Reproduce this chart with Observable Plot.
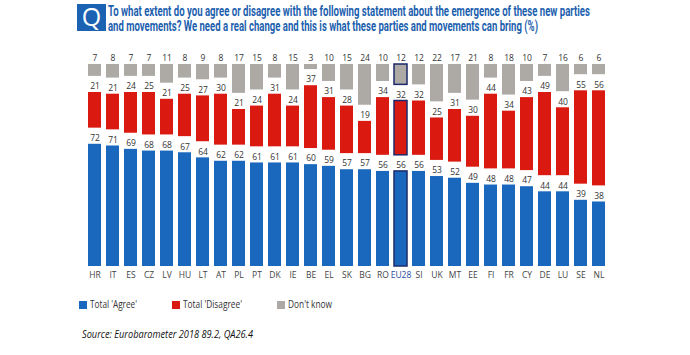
<!DOCTYPE html>
<html>
<head>
<meta charset="utf-8">
<script src="https://cdn.jsdelivr.net/npm/d3@7"></script>
<script src="https://cdn.jsdelivr.net/npm/@observablehq/plot@0.6"></script>
<style>
  html, body { margin: 0; padding: 0; background: #fff; }
  #wrap { position: relative; width: 690px; height: 355px; overflow: hidden; font-family: "Open Sans", sans-serif; }
  #qbox { position: absolute; left: 77px; top: 4px; width: 29px; height: 27px; background: #1b62b3; }
  #qletter { position: absolute; left: 0; top: 0; width: 29px; height: 27px; color: #fff; font-family: "Open Sans", sans-serif;
             font-size: 25px; line-height: 25px; text-align: center; }
  #title { position: absolute; left: 108px; top: 4px; color: #1c5fae; font-family: Roboto, sans-serif;
           font-weight: 700; font-size: 14px; line-height: 15px; white-space: nowrap; }
  .fit { display: inline-block; transform-origin: 0 50%; white-space: nowrap; }
  #chart { position: absolute; left: 0; top: 48px; }
  .leg { position: absolute; top: 298px; font-size: 10px; color: #333; line-height: 12px; white-space: nowrap; }
  .sw { display: inline-block; width: 8px; height: 8px; vertical-align: -1px; margin-right: 3px; }
  #source { position: absolute; left: 82px; top: 326px; font-style: italic; font-size: 11.5px; color: #111; white-space: nowrap; }
</style>
</head>
<body>
<div id="wrap">
  <div id="qbox"><div id="qletter">Q</div></div>
  <div id="title"><span class="fit" data-w="482">To what extent do you agree or disagree with the following statement about the emergence of these new parties</span><br><span class="fit" data-w="430">and movements? We need a real change and this is what these parties and movements can bring (%)</span></div>
  <div id="chart"></div>
  <div class="leg" style="left:79px"><span class="sw" style="background:#1a68bd"></span><span class="fit" data-w="47">Total 'Agree'</span></div>
  <div class="leg" style="left:172px"><span class="sw" style="background:#da1a10"></span><span class="fit" data-w="59">Total 'Disagree'</span></div>
  <div class="leg" style="left:277px"><span class="sw" style="background:#adaaa6"></span><span class="fit" data-w="44">Don't know</span></div>
  <div id="source"><span class="fit" data-w="171">Source: Eurobarometer 2018 89.2, QA26.4</span></div>
</div>
<script>
const countries = ["HR","IT","ES","CZ","LV","HU","LT","AT","PL","PT","DK","IE","BE","EL","SK","BG","RO","EU28","SI","UK","MT","EE","FI","FR","CY","DE","LU","SE","NL"];
const agree     = [72,71,69,68,68,67,64,62,62,61,61,61,60,59,57,57,56,56,56,53,52,49,48,48,47,44,44,39,38];
const disagree  = [21,21,24,25,21,25,27,30,21,24,31,24,37,31,28,19,34,32,32,25,31,30,44,34,43,49,40,55,56];
const dontKnow  = [7,8,7,7,11,8,9,8,17,15,8,15,3,10,15,24,10,12,12,22,17,21,8,18,10,7,16,6,6];
const seriesNames = ["Total 'Agree'", "Total 'Disagree'", "Don't know"];
const colors = ["#1a68bd", "#da1a10", "#adaaa6"];
const highlight = "EU28";
const gap = 9.5; // label space between stacked segments (in %-units)

const rows = [];
countries.forEach((c, i) => {
  const vals = [agree[i], disagree[i], dontKnow[i]];
  let base = 0;
  vals.forEach((v, s) => {
    rows.push({country: c, series: s, value: v, y1: base, y2: base + v});
    base += v + gap;
  });
});

const marks = [];
colors.forEach((col, s) => {
  marks.push(Plot.barY(rows.filter(r => r.series === s), {x: "country", y1: "y1", y2: "y2", fill: col}));
});
marks.push(Plot.barY(rows.filter(r => r.country === highlight), {x: "country", y1: "y1", y2: "y2", fill: "none", stroke: "#1b2a6b", strokeWidth: 1.5}));
marks.push(Plot.text(rows, {x: "country", y: "y2", text: d => String(d.value), dy: -6, fontSize: 8.5, fill: "#333"}));
marks.push(Plot.text(countries.filter(c => c !== highlight), {x: d => d, text: d => d, frameAnchor: "bottom", dy: 11, fontSize: 8.5, fill: "#444"}));
marks.push(Plot.text(countries.filter(c => c === highlight), {x: d => d, text: d => d, frameAnchor: "bottom", dy: 11, fontSize: 8.5, fill: "#1f4a9e"}));

const chart = Plot.plot({
  width: 690, height: 240,
  marginLeft: 76, marginRight: 73, marginTop: 16, marginBottom: 22,
  style: {fontFamily: "Open Sans, sans-serif", background: "transparent"},
  x: {domain: countries, paddingInner: 0.3, paddingOuter: 0.15, axis: null},
  y: {domain: [0, 100 + 2 * gap], axis: null},
  marks
});
document.getElementById("chart").appendChild(chart);

document.querySelectorAll(".fit").forEach(el => {
  const target = +el.dataset.w;
  const w = el.getBoundingClientRect().width;
  if (w > 0) el.style.transform = `scaleX(${target / w})`;
});
</script>
</body>
</html>
